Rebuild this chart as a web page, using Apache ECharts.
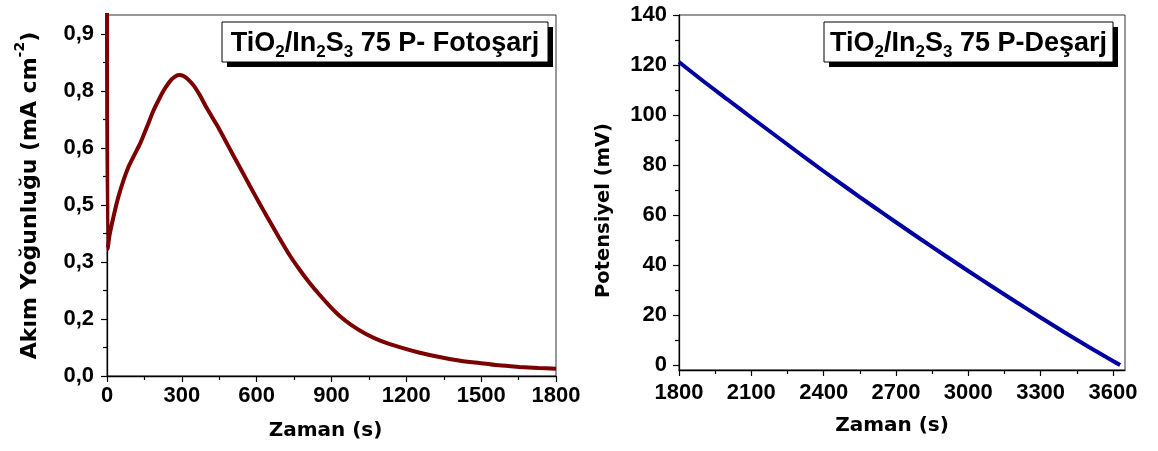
<!DOCTYPE html>
<html>
<head>
<meta charset="utf-8">
<script src="https://cdn.jsdelivr.net/npm/echarts@6/dist/echarts.min.js"></script>
<style>
  html, body { margin: 0; padding: 0; background: #fff; }
  #chart { width: 1158px; height: 451px; }
</style>
</head>
<body>
<div id="chart"></div>
<script>
// Photo-charge current density (mA cm^-2) versus time (s)
const chargeTime = [0, 3, 10, 26, 45, 66, 86, 106, 133, 160, 186, 210, 226, 245, 260, 275, 290, 305, 326, 350, 373, 400, 440, 470, 506, 540, 573, 610, 640, 690, 733, 773, 810, 853, 890, 933, 980, 1040, 1100, 1173, 1250, 1333, 1410, 1493, 1570, 1653, 1730, 1800];
const chargeCurrent = [1.0, 0.335, 0.37, 0.419, 0.47, 0.515, 0.55, 0.577, 0.612, 0.655, 0.698, 0.730, 0.750, 0.769, 0.781, 0.789, 0.792, 0.790, 0.780, 0.762, 0.738, 0.705, 0.661, 0.625, 0.581, 0.540, 0.500, 0.456, 0.421, 0.364, 0.317, 0.279, 0.247, 0.213, 0.186, 0.158, 0.134, 0.110, 0.092, 0.076, 0.062, 0.050, 0.041, 0.034, 0.028, 0.024, 0.021, 0.019];

// Discharge potential (mV) versus time (s)
const dischargeTime = [1800, 1900, 2000, 2100, 2200, 2300, 2400, 2500, 2600, 2700, 2800, 2900, 3000, 3100, 3200, 3300, 3400, 3500, 3600, 3630];
const dischargePotential = [121.2, 113.6, 106.3, 99.0, 91.8, 84.6, 77.5, 70.6, 63.8, 57.1, 50.5, 44.0, 37.6, 31.3, 25.1, 19.0, 13.0, 7.2, 1.6, 0.0];

// Tick values and labels
const chargeYTicks = [0, 0.15, 0.3, 0.45, 0.6, 0.75, 0.9];
const chargeYLabels = ['0,0', '0,2', '0,3', '0,5', '0,6', '0,8', '0,9'];
const chargeYMinor = [0.075, 0.225, 0.375, 0.525, 0.675, 0.825];
const chargeXTicks = [0, 300, 600, 900, 1200, 1500, 1800];
const chargeXMinor = [150, 450, 750, 1050, 1350, 1650];
const dischargeXTicks = [1800, 2100, 2400, 2700, 3000, 3300, 3600];
const dischargeXMinor = [1950, 2250, 2550, 2850, 3150, 3450];
const dischargeYTicks = [0, 20, 40, 60, 80, 100, 120, 140];
const dischargeYMinor = [10, 30, 50, 70, 90, 110, 130];

// Text
const chargeBoxText = '{t|TiO}{b|2}{t|/In}{b|2}{t|S}{b|3}{t| 75 P- Foto\u015farj}';
const dischargeBoxText = '{t|TiO}{b|2}{t|/In}{b|2}{t|S}{b|3}{t| 75 P-De\u015farj}';
const chargeYName = '{a|Ak\u0131m Yo\u011funlu\u011fu (mA cm}{s|-2}{a|)}';
const dischargeYName = 'Potensiyel (mV)';
const timeName = 'Zaman (s)';

const arialFamily = "'Liberation Sans', Arial, sans-serif";
const titleFamily = "'DejaVu Sans', sans-serif";
const tickFont = { fontFamily: arialFamily, fontWeight: 'bold', fontSize: 22, color: '#000' };

function zip(xs, ys) { return xs.map((x, i) => [x, ys[i]]); }

function mainAxis(gridIndex, min, max, ticks, labels, margin, extra) {
  return Object.assign({
    type: 'value', gridIndex, min, max,
    splitLine: { show: false },
    axisLine: { show: true, onZero: false, lineStyle: { color: '#000', width: 1.3 } },
    axisTick: { show: true, inside: false, length: 6, customValues: ticks, lineStyle: { color: '#000', width: 1.2 } },
    axisLabel: Object.assign({ customValues: ticks, margin, formatter: v => {
      const i = ticks.indexOf(v);
      return labels ? labels[i] : String(v);
    } }, tickFont)
  }, extra || {});
}

function minorAxis(gridIndex, min, max, ticks, position) {
  return {
    type: 'value', gridIndex, min, max, position,
    splitLine: { show: false },
    axisLine: { show: false, onZero: false },
    axisTick: { show: true, length: 4, customValues: ticks, lineStyle: { color: '#000', width: 1.2 } },
    axisLabel: { show: false }
  };
}

// Framed caption with a hard drop shadow; chemical subscripts sit below the baseline
function boxGraphic(x, y, w, h, text) {
  return [
    { type: 'rect', shape: { x: x + 5, y: y + 5, width: w, height: h }, style: { fill: '#000' }, z: 100 },
    { type: 'rect', shape: { x, y, width: w, height: h }, style: { fill: '#fff', stroke: '#000', lineWidth: 1 }, z: 101 },
    { type: 'text', x: x + w / 2, y: y + h / 2 + 3, z: 102,
      style: {
        text, align: 'center', verticalAlign: 'middle',
        rich: {
          t: { fontFamily: arialFamily, fontWeight: 'bold', fontSize: 27, lineHeight: 30, verticalAlign: 'top', fill: '#000' },
          b: { fontFamily: arialFamily, fontWeight: 'bold', fontSize: 17, lineHeight: 12, verticalAlign: 'top', padding: [14, 0, 0, 0], fill: '#000' }
        }
      } }
  ];
}

const chart = echarts.init(document.getElementById('chart'), null, { renderer: 'canvas' });

chart.setOption({
  backgroundColor: '#fff',
  animation: false,
  grid: [
    { left: 107, top: 15, right: 602, bottom: 75, show: true, borderColor: '#333', borderWidth: 1, backgroundColor: 'transparent' },
    { left: 679, top: 15, right: 33, bottom: 81, show: true, borderColor: '#333', borderWidth: 1, backgroundColor: 'transparent' }
  ],
  xAxis: [
    mainAxis(0, 0, 1800, chargeXTicks, null, 9, {
      position: 'bottom', name: timeName, nameLocation: 'middle', nameGap: 45,
      nameTextStyle: { fontFamily: titleFamily, fontWeight: 'bold', fontSize: 20, color: '#000', padding: [0, 12, 0, 0] }
    }),
    minorAxis(0, 0, 1800, chargeXMinor, 'bottom'),
    mainAxis(1, 1800, 3650, dischargeXTicks, null, 12, {
      position: 'bottom', name: timeName, nameLocation: 'middle', nameGap: 46,
      nameTextStyle: { fontFamily: titleFamily, fontWeight: 'bold', fontSize: 20, color: '#000', padding: [0, 20, 0, 0] }
    }),
    minorAxis(1, 1800, 3650, dischargeXMinor, 'bottom')
  ],
  yAxis: [
    mainAxis(0, 0, 0.95, chargeYTicks, chargeYLabels, 13, {
      position: 'left', name: chargeYName, nameLocation: 'middle', nameGap: 66, nameRotate: 90,
      nameTextStyle: {
        rich: {
          a: { fontFamily: titleFamily, fontWeight: 'bold', fontSize: 22, lineHeight: 28, verticalAlign: 'bottom', color: '#000' },
          s: { fontFamily: titleFamily, fontWeight: 'bold', fontSize: 14, lineHeight: 28, verticalAlign: 'top', color: '#000' }
        }
      }
    }),
    minorAxis(0, 0, 0.95, chargeYMinor, 'left'),
    mainAxis(1, -2, 140, dischargeYTicks, null, 12, {
      position: 'left', name: dischargeYName, nameLocation: 'middle', nameGap: 65, nameRotate: 90,
      nameTextStyle: { fontFamily: titleFamily, fontWeight: 'bold', fontSize: 19.5, color: '#000', padding: [0, 36, 0, 0] }
    }),
    minorAxis(1, -2, 140, dischargeYMinor, 'left')
  ],
  series: [
    {
      type: 'line', xAxisIndex: 0, yAxisIndex: 0, data: zip(chargeTime, chargeCurrent),
      showSymbol: false, symbol: 'none', smooth: 0.3, clip: true,
      lineStyle: { color: '#7b0000', width: 4 }
    },
    {
      type: 'line', xAxisIndex: 2, yAxisIndex: 2, data: zip(dischargeTime, dischargePotential),
      showSymbol: false, symbol: 'none', smooth: 0.3, clip: true,
      lineStyle: { color: '#0000a0', width: 4 }
    }
  ],
  graphic: [
    ...boxGraphic(222, 22, 326, 40, chargeBoxText),
    ...boxGraphic(824, 22, 289, 40, dischargeBoxText)
  ]
});
</script>
</body>
</html>
